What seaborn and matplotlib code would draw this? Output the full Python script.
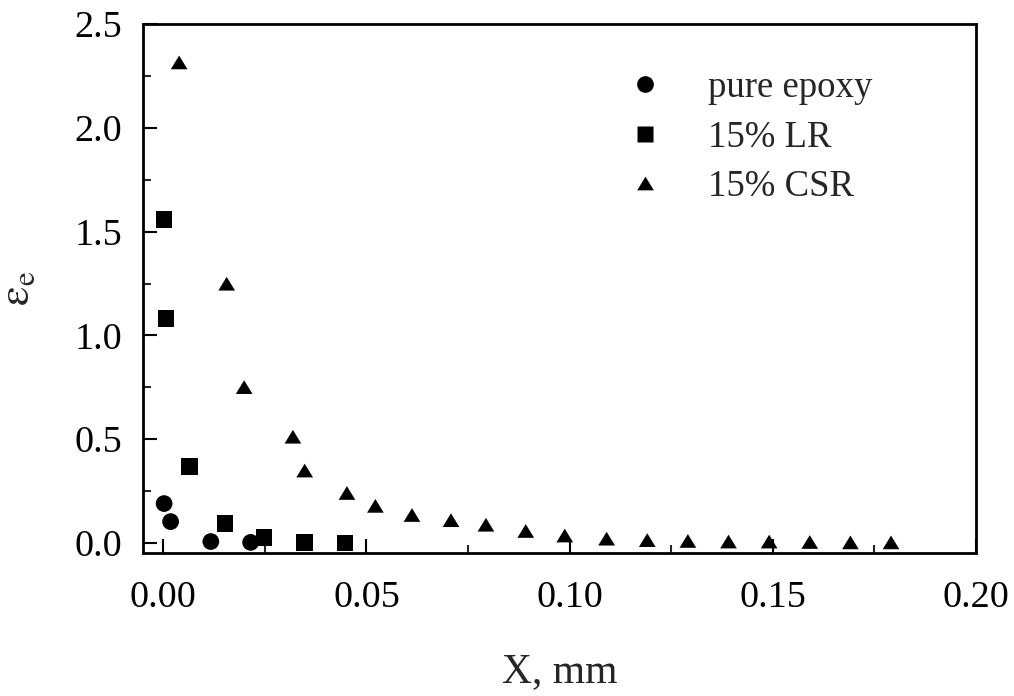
import numpy as np
import pandas as pd
import matplotlib
matplotlib.use("Agg")
import matplotlib.pyplot as plt
import seaborn as sns
from matplotlib.ticker import MultipleLocator, FormatStrFormatter

# ── datos
epoxy_x = [0.0002, 0.0018, 0.0117, 0.0215]
epoxy_y = [0.19, 0.103, 0.007, 0.003]

lr_x = [0.0002, 0.0007, 0.0064, 0.0152, 0.0248, 0.0348, 0.0447]
lr_y = [1.558, 1.083, 0.370, 0.095, 0.028, 0.003, 0.0]

csr_x = [0.0039, 0.0156, 0.0199, 0.0319, 0.0348, 0.0452, 0.0522, 0.0612,
         0.0708, 0.0794, 0.0892, 0.0988, 0.1091, 0.1191, 0.1291, 0.1391,
         0.1491, 0.1591, 0.1691, 0.1791]
csr_y = [2.315, 1.249, 0.751, 0.512, 0.349, 0.241, 0.179, 0.135,
         0.110, 0.088, 0.058, 0.036, 0.021, 0.014, 0.010, 0.007,
         0.007, 0.005, 0.003, 0.003]

series_names = ["pure epoxy", "15% LR", "15% CSR"]
# triángulo algo más ancho que alto, como en el original
tri = [(0, 0.82), (-1, -0.82), (1, -0.82), (0, 0.82)]
series_markers = ["o", "s", tri]

df = pd.concat([
    pd.DataFrame({"x": epoxy_x, "y": epoxy_y, "serie": series_names[0]}),
    pd.DataFrame({"x": lr_x, "y": lr_y, "serie": series_names[1]}),
    pd.DataFrame({"x": csr_x, "y": csr_y, "serie": series_names[2]}),
])

sns.set_style("ticks")
plt.rcParams["font.family"] = ["Liberation Serif", "DejaVu Serif"]
plt.rcParams["mathtext.fontset"] = "stix"

fig = plt.figure(figsize=(10.14, 6.96), dpi=100)
ax = fig.add_axes([0.141, 0.2055, 0.8215, 0.760])

sns.scatterplot(
    data=df, x="x", y="y", style="serie",
    markers=dict(zip(series_names, series_markers)),
    color="black", s=145, edgecolor="none", ax=ax,
)

ax.set_xlim(-0.005, 0.2)
ax.set_ylim(-0.048, 2.5)
ax.xaxis.set_major_locator(MultipleLocator(0.05))
ax.xaxis.set_minor_locator(MultipleLocator(0.025))
ax.yaxis.set_major_locator(MultipleLocator(0.5))
ax.yaxis.set_minor_locator(MultipleLocator(0.25))
ax.xaxis.set_major_formatter(FormatStrFormatter("%.2f"))
ax.yaxis.set_major_formatter(FormatStrFormatter("%.1f"))

ax.tick_params(which="major", direction="in", length=10, width=1.5,
               labelsize=27.5, pad=15, colors="black")
ax.tick_params(which="minor", direction="in", length=6, width=1.5)
ax.tick_params(axis="x", which="major", pad=20)
for sp in ax.spines.values():
    sp.set_linewidth(2)
    sp.set_color("black")

ax.set_xlabel("X, mm", fontsize=30, labelpad=27)
ax.set_ylabel(r"$\mathrm{\varepsilon}_\mathrm{e}$", fontsize=32, labelpad=26)

ax.legend(loc="upper left", bbox_to_anchor=(0.5805, 0.912), frameon=False,
          fontsize=26.5, handletextpad=1.2, handlelength=1.0, labelspacing=0.41,
          borderpad=0, borderaxespad=0)

fig.savefig("out.png", dpi=100)
